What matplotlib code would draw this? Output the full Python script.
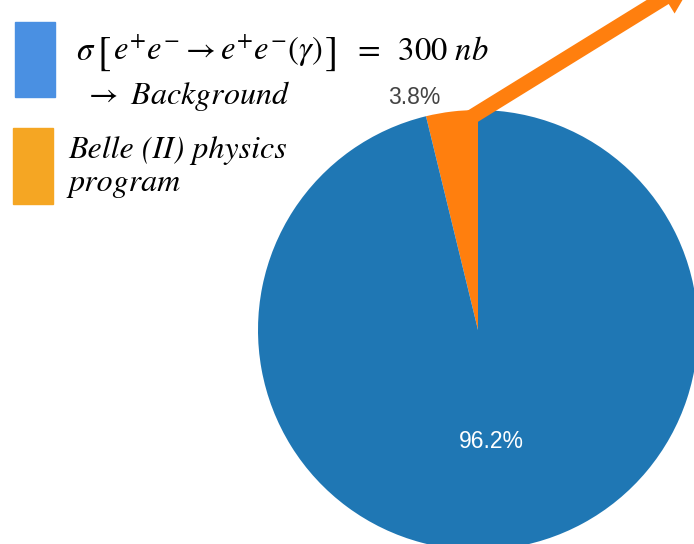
import numpy as np
import matplotlib
matplotlib.use("Agg")
import matplotlib.pyplot as plt

# cross-section shares
labels = ["Belle (II) physics program", "Bhabha background"]
shares = [3.8, 96.2]
pie_colors = ["#ff7f0e", "#1f77b4"]
legend_colors = ["#4a90e2", "#f5a623"]

plt.rcParams["mathtext.fontset"] = "stix"

W, H = 694, 544
fig = plt.figure(figsize=(W / 100, H / 100), dpi=100)
ax = fig.add_axes([0, 0, 1, 1])

# pie centre at pixel (478, 330), radius 220 px -> 1 data unit
cx, cy, R = 478, 330, 220

wedges, texts, autotexts = ax.pie(
    shares, colors=pie_colors, startangle=90, counterclock=True,
    autopct="%1.1f%%", pctdistance=0.51, radius=1.0,
    textprops=dict(fontfamily="Liberation Sans", fontsize=16.5),
)
ax.set_aspect("auto")
ax.set_xlim(-cx / R, (W - cx) / R)
ax.set_ylim((cy - H) / R, cy / R)
ax.axis("off")

# small wedge label sits just outside the rim, a little to the left
w = wedges[0]
mid = np.deg2rad((w.theta1 + w.theta2) / 2)
autotexts[0].set_position((1.07 * np.cos(mid) - 0.045, 1.065 * np.sin(mid)))
autotexts[0].set_ha("right")
autotexts[0].set_va("center")
autotexts[0].set_color("#444444")
autotexts[1].set_color("white")

# thick arrow leaving the physics slice
ax.arrow(-0.075, 0.94, 1.06, 0.655, width=0.068, head_width=0.17,
         head_length=0.16, length_includes_head=True,
         color="#ff7f0e", linewidth=0)


def px(x, y):
    return x / W, 1 - y / H


# legend boxes
for (x0, y0, x1, y1), c in zip([(15, 22, 55, 97), (13, 128, 53, 204)], legend_colors):
    fig.patches.append(plt.Rectangle(px(x0, y1), (x1 - x0) / W, (y1 - y0) / H,
                                     transform=fig.transFigure, color=c))

# first legend line built piece by piece so the brackets can be taller
renderer = fig.canvas.get_renderer()
pieces = [
    (r"$\sigma$", 23.5, 0),
    ("[", 29, 4),
    (r"$e^{+}e^{-} \rightarrow e^{+}e^{-}(\gamma)$", 23.5, 0),
    ("]", 29, 4),
    (r"$\;\;=\;\;\mathrm{300}\ nb$", 23.5, 0),
]
x = 76
for s, size, drop in pieces:
    t = fig.text(*px(x, 60 + drop), s, fontsize=size, va="baseline", ha="left",
                 fontfamily="STIXGeneral")
    x += t.get_window_extent(renderer).width + 2

fig.text(*px(84, 104), r"$\rightarrow\ \mathit{Background}$",
         fontsize=23, va="baseline", ha="left")
fig.text(*px(68, 158), "Belle (II) physics", fontfamily="STIXGeneral",
         style="italic", fontsize=23, va="baseline", ha="left")
fig.text(*px(68, 191), "program", fontfamily="STIXGeneral",
         style="italic", fontsize=23, va="baseline", ha="left")

fig.savefig("out.png", dpi=100)
